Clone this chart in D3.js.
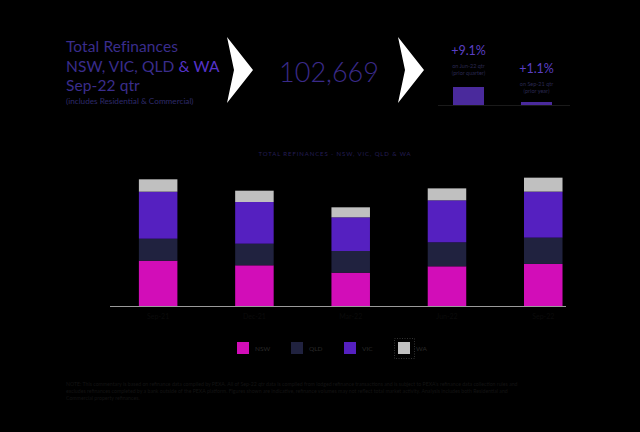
<!DOCTYPE html>
<html><head><meta charset="utf-8">
<script src="https://cdn.jsdelivr.net/npm/d3@7"></script>
<style>html,body{margin:0;padding:0;background:#000;}svg{display:block;}</style>
</head><body>
<svg id="c" width="640" height="432"></svg>
<script>
const categories = ["Sep-21", "Dec-21", "Mar-22", "Jun-22", "Sep-22"];
const seriesNames = ["NSW", "QLD", "VIC", "WA"];
const nsw = [36250, 32550, 26650, 31750, 33650];
const qld = [17600, 17300, 17350, 19200, 21050];
const vic = [37600, 33350, 26950, 33600, 36800];
const wa  = [9900, 9050, 8000, 9550, 11169];
const colors = ["#d20db8", "#20223f", "#5520c0", "#c0c0c0"];
const changeLabels = ["+9.1%", "+1.1%"];
const changeValues = [9.1, 1.1];
const changeNotes = [["on Jun-22 qtr", "(prior quarter)"], ["on Sep-21 qtr", "(prior year)"]];
const totalLabel = "102,669";

const svg = d3.select("#c");
const font = "Lato, 'Noto Sans', sans-serif";

// Header
const hdr = svg.append("g").attr("font-family", font);
const hl = hdr.append("g").attr("font-size", 15.5).attr("letter-spacing", 0.1).attr("fill", "#3a2d8c");
hl.append("text").attr("x", 66).attr("y", 52).text("Total Refinances");
const l2 = hl.append("text").attr("x", 66).attr("y", 72);
l2.append("tspan").text("NSW, VIC, QLD ");
l2.append("tspan").attr("fill", "#5533c8").text("& WA");
hl.append("text").attr("x", 66).attr("y", 91).text("Sep-22 qtr");
hdr.append("text").attr("x", 66).attr("y", 104).attr("font-size", 8.2).attr("fill", "#2e2a6a").text("(includes Residential & Commercial)");

// arrows
[[227, 253], [398, 424]].forEach(([x0, x1]) => {
  svg.append("path").attr("d", `M${x0},37 L${x1},70 L${x0},103 L${x0+7},70 Z`).attr("fill", "#ffffff");
});

hdr.append("text").attr("x", 329).attr("y", 82).attr("text-anchor", "middle")
  .attr("font-size", 27).attr("font-weight", 300).attr("fill", "#3a2a88").text(totalLabel);

// change boxes
const chX = [468.5, 536.5];
const chY = [55, 73];
const miniScale = d3.scaleLinear().domain([0, 9.1]).range([0, 18]);
svg.append("line").attr("x1", 438).attr("x2", 570).attr("y1", 105.5).attr("y2", 105.5).attr("stroke", "#1a1a1a");
changeLabels.forEach((t, i) => {
  hdr.append("text").attr("x", chX[i]).attr("y", chY[i]).attr("text-anchor", "middle")
    .attr("font-size", 12.5).attr("fill", "#5a3fc4").text(t);
  changeNotes[i].forEach((n, j) => {
    hdr.append("text").attr("x", chX[i]).attr("y", chY[i] + 13 + j * 7).attr("text-anchor", "middle")
      .attr("font-size", 5.5).attr("fill", "#2a2850").text(n);
  });
  const h = Math.max(3, miniScale(changeValues[i]));
  svg.append("rect").attr("x", chX[i] - 15.5).attr("width", 31).attr("y", 105 - h).attr("height", h).attr("fill", "#4a2a9c");
});

// Chart
const x = d3.scaleBand().domain(categories).range([110, 591.4]).paddingInner(0.6).paddingOuter(0.3);
const y = d3.scaleLinear().domain([0, 112000]).range([306, 166]);

svg.append("text").attr("x", 335).attr("y", 156).attr("text-anchor", "middle")
  .attr("font-family", font).attr("font-size", 6).attr("letter-spacing", 0.9)
  .attr("fill", "#241e55").text("TOTAL REFINANCES - NSW, VIC, QLD & WA");

const data = categories.map((c, i) => ({cat: c, NSW: nsw[i], QLD: qld[i], VIC: vic[i], WA: wa[i]}));
const stack = d3.stack().keys(seriesNames)(data);

svg.append("g").selectAll("g").data(stack).join("g")
  .attr("fill", (d, i) => colors[i])
  .selectAll("rect").data(d => d).join("rect")
  .attr("x", d => x(d.data.cat))
  .attr("width", x.bandwidth())
  .attr("y", d => y(d[1]))
  .attr("height", d => y(d[0]) - y(d[1]));

const xAxis = svg.append("g").attr("transform", "translate(0,306)")
  .call(d3.axisBottom(x).tickSize(0).tickPadding(8));
xAxis.select(".domain").attr("d", "M110,0.5H566").attr("stroke", "#9a9a9a");
xAxis.selectAll("text").attr("fill", "#0b0b0b").attr("font-family", font).attr("font-size", 7);

// Legend
const legX = [237, 291, 344, 398];
const leg = svg.append("g").attr("font-family", font).attr("font-size", 6.5);
seriesNames.forEach((s, i) => {
  leg.append("rect").attr("x", legX[i]).attr("y", 342).attr("width", 12).attr("height", 12).attr("fill", colors[i]);
  leg.append("text").attr("x", legX[i] + 18).attr("y", 350.5).attr("fill", "#2a2a2a").text(s);
});
leg.append("rect").attr("x", 394.5).attr("y", 338.5).attr("width", 20).attr("height", 20)
  .attr("fill", "none").attr("stroke", "#333").attr("stroke-dasharray", "1,1.5");

// Note
const note = [
  "NOTE: This commentary is based on refinance data compiled by PEXA. All of Sep-22 qtr data is compiled from lodged refinance transactions and is subject to PEXA’s refinance data collection rules and",
  "excludes refinances completed by a bank outside of the PEXA platform. Figures shown are indicative, refinance volumes may not reflect total market activity. Analysis includes both Residential and",
  "Commercial property refinances."
];
svg.append("g").attr("font-family", font).attr("font-size", 5.2).attr("fill", "#141414")
  .selectAll("text").data(note).join("text")
  .attr("x", 66).attr("y", (d, i) => 386 + i * 7).text(d => d);
</script>
</body></html>
